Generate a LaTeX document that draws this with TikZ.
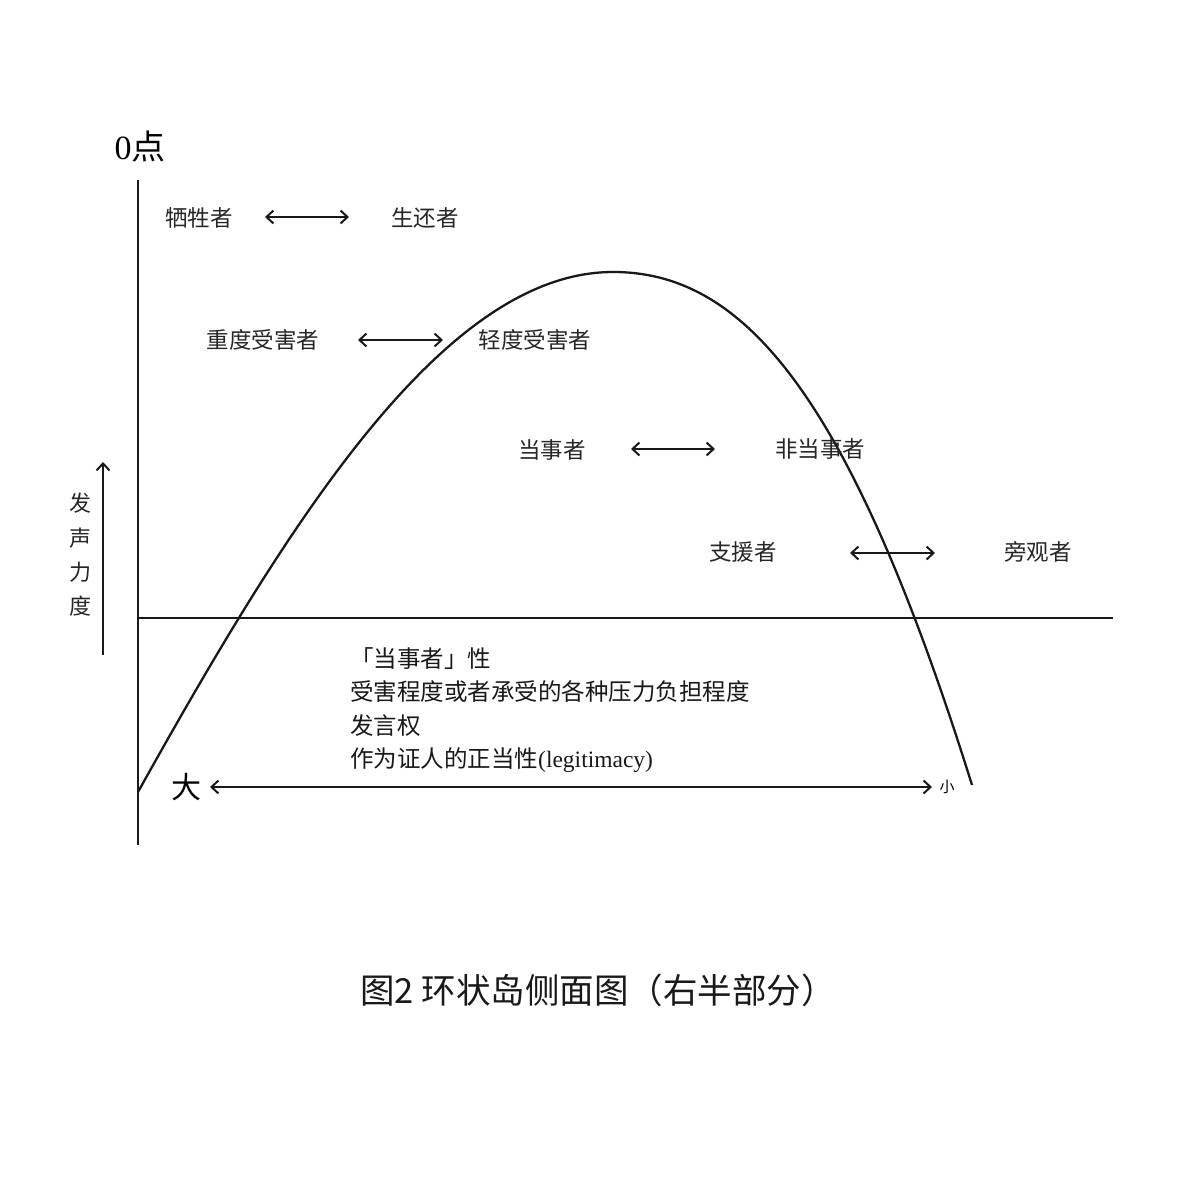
\documentclass[tikz,border=0pt]{standalone}
\usepackage{fontspec}
\setmainfont{Liberation Serif}
\newfontfamily\cjk{Noto Sans CJK SC}
\usetikzlibrary{arrows.meta}
\begin{document}
\begin{tikzpicture}[x=1pt,y=-1pt,
  line/.style={line width=2.3pt,black!90},
  dbl/.style={line width=2.3pt,black!90,{Straight Barb[length=7pt,width=13pt,line width=2pt]}-{Straight Barb[length=7pt,width=13pt,line width=2pt]}},
  single/.style={line width=2.3pt,black!90,-{Straight Barb[length=7pt,width=13pt,line width=2pt]}},
  lab/.style={inner sep=0pt,font=\cjk\fontsize{22.5}{27}\selectfont,text=black!85},
  every node/.style={inner sep=0pt}]
\useasboundingbox (0,0) rectangle (1190,1190);
\fill[white] (0,0) rectangle (1190,1190);
% axes
\coordinate (vtop) at (138,180);
\coordinate (vbot) at (138,845);
\coordinate (hl) at (138,618);
\coordinate (hr) at (1113,618);
\draw[line] (vtop) -- (vbot);
\draw[line] (hl) -- (hr);
% curve
\coordinate (c0) at (138,792);
\coordinate (apex) at (613,272);
\coordinate (c1) at (972,785);
\draw[line] (c0) .. controls (287,525) and (443,272) .. (apex)
  .. controls (743,272) and (849,392) .. (c1);
% top label
\node (zero) at (140,147) {\fontsize{34}{38}\selectfont 0{\cjk 点}};
% rows
\node[lab] (a1) at (199,218) {牺牲者};
\node[lab] (b1) at (425,218) {生还者};
\coordinate (a1e) at (265,217); \coordinate (b1w) at (349,217);
\draw[dbl] (a1e) -- (b1w);
\node[lab] (a2) at (263,340) {重度受害者};
\node[lab] (b2) at (535,340) {轻度受害者};
\coordinate (a2e) at (358,340); \coordinate (b2w) at (443,340);
\draw[dbl] (a2e) -- (b2w);
\node[lab] (a3) at (552,450) {当事者};
\node[lab] (b3) at (820,449) {非当事者};
\coordinate (a3e) at (631,449); \coordinate (b3w) at (715,449);
\draw[dbl] (a3e) -- (b3w);
\node[lab] (a4) at (743,552) {支援者};
\node[lab] (b4) at (1038,552) {旁观者};
\coordinate (a4e) at (850,553); \coordinate (b4w) at (935,553);
\draw[dbl] (a4e) -- (b4w);
% vertical arrow and label
\coordinate (va0) at (103,655); \coordinate (va1) at (103,462);
\draw[single] (va0) -- (va1);
\node[font=\cjk\fontsize{22}{34.3}\selectfont,align=center,text=black!85] (vl) at (80,555) {发\\声\\力\\度};
% bottom text
\node[anchor=west,font=\cjk\fontsize{23.5}{33.3}\selectfont,align=left,text=black!90] (desc) at (350,710)
  {「当事者」性\\受害程度或者承受的各种压力负担程度\\发言权\\作为证人的正当性{\rmfamily(legitimacy)}};
% big-small arrow
\node[font=\cjk\fontsize{30}{34}\selectfont] (big) at (186,787) {大};
\node[font=\cjk\fontsize{15}{18}\selectfont] (small) at (947,787) {小};
\coordinate (bs) at (210,787); \coordinate (se) at (932,787);
\draw[dbl] (bs) -- (se);
% caption
\node[font=\cjk\fontsize{34.5}{40}\selectfont,text=black!90] (cap) at (598,990) {图2 环状岛侧面图（右半部分）};
\end{tikzpicture}
\end{document}
